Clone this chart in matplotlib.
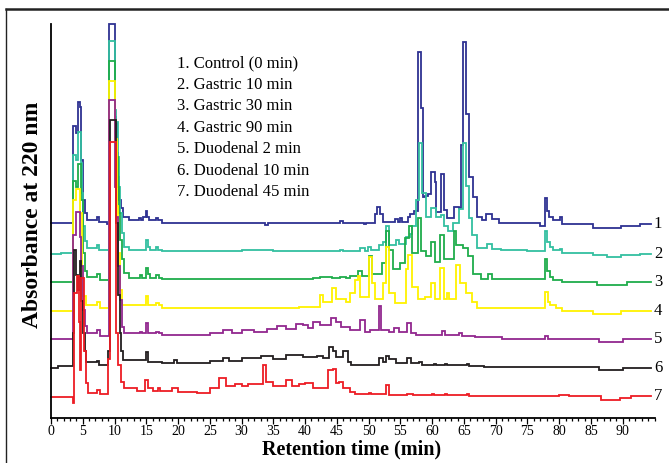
import matplotlib
matplotlib.use("Agg")
import matplotlib.pyplot as plt
from matplotlib.lines import Line2D

plt.rcParams['font.family'] = ['Liberation Serif', 'DejaVu Serif']

# ---------------- data ----------------
sample_labels = ["1. Control (0 min)", "2. Gastric 10 min", "3. Gastric 30 min",
                 "4. Gastric 90 min", "5. Duodenal 2 min", "6. Duodenal 10 min",
                 "7. Duodenal 45 min"]
trace_numbers = ["1", "2", "3", "4", "5", "6", "7"]
x_ticks = list(range(0, 95, 5))
x_label = "Retention time (min)"
y_label = "Absorbance at 220 nm"

# (retention time, absorbance above own baseline) step points
control = [(0, 0), (3.4, 3.34), (4.0, 3.1), (4.2, 4.18), (4.5, 4.0), (4.8, 2.17), (5.0, 0.8),
           (5.3, 0.34), (5.6, 0.1), (7.2, 0.2), (7.6, 0.02), (8.8, -0.03), (9.1, 6.85),
           (10.05, 3.66), (10.2, 3.45), (10.4, 2.4), (10.55, 1.6), (10.75, 0.8), (11.0, 0.5),
           (11.3, 0.22), (12.3, 0.1), (13.8, 0.16), (14.2, 0.1), (14.5, 0.22), (14.9, 0.42),
           (15.15, 0.22), (15.5, 0.1), (16.5, 0.16), (16.9, 0.1), (17.5, 0.0), (33.7, -0.06),
           (34.1, 0.0), (45.5, 0.06), (45.9, 0.0), (49.2, -0.05), (49.6, 0.0), (51.0, 0.3),
           (51.3, 0.54), (51.8, 0.3), (52.2, 0.05), (54.2, 0.15), (54.6, 0.05), (55.0, 0.17),
           (55.3, 0.05), (56.2, 0.2), (56.5, 0.32), (57.2, 0.42), (57.8, 5.88), (58.3, 3.97),
           (58.6, 0.88), (58.9, 0.94), (59.4, 1.0), (59.8, 1.75), (60.4, 1.4), (60.6, 0.37),
           (61.4, 1.68), (61.9, 0.45), (62.3, 0.17), (63.4, 0.56), (64.2, 0.5), (64.5, 2.7),
           (64.9, 6.25), (65.4, 3.76), (65.8, 1.57), (66.4, 0.88), (67.0, 0.19), (67.8, 0.1),
           (68.5, 0.31), (69.4, 0.12), (70.5, 0.0), (76.9, -0.09), (77.7, 0.85), (78.1, 0.4),
           (78.4, 0.2), (79.0, 0.1), (80.2, 0.2), (80.5, -0.05), (85.3, -0.17), (89.8, -0.12),
           (92.7, -0.05), (94.4, -0.05)]

gastric10 = [(0, -0.06), (1.6, 0.0), (3.4, 3.37), (4.0, 3.2), (4.3, 4.17), (4.7, 3.1),
             (4.9, 2.05), (5.0, 0.9), (5.3, 0.4), (5.6, 0.15), (7.2, 0.25), (7.6, 0.1),
             (9.1, 7.28), (10.05, 4.9), (10.3, 4.5), (10.5, 3.3), (10.7, 2.27), (10.9, 1.37),
             (11.2, 0.68), (11.5, 0.2), (12.3, 0.09), (14.9, 0.44), (15.2, 0.2), (15.6, 0.09),
             (16.5, 0.18), (16.9, 0.09), (17.5, 0.07), (23.3, 0.04), (25.8, 0.07), (30, 0.09),
             (35, 0.07), (45.5, 0.1), (46, 0.07), (48.7, 0.15), (49.4, 0.07), (49.9, 0.19),
             (50.4, 0.1), (51.7, 0.25), (52.2, 0.35), (52.7, 0.9), (53.2, 0.25), (54.3, 0.42),
             (54.8, 0.3), (55.9, 0.53), (56.5, 0.65), (56.8, 0.9), (57.5, 1.8), (58.0, 3.77),
             (58.4, 2.05), (59.0, 1.24), (59.8, 1.53), (60.6, 1.24), (61.4, 1.3), (61.8, 0.9),
             (62.5, 0.75), (63.3, 1.01), (64.2, 1.5), (64.9, 3.77), (65.4, 2.3), (65.8, 1.2),
             (66.2, 0.6), (67.0, 0.15), (68.6, 0.3), (69.4, 0.13), (70.8, 0.09), (75, 0.04),
             (77.7, 0.75), (78.1, 0.35), (78.5, 0.2), (79.0, 0.09), (80.2, 0.13), (80.5, -0.02),
             (85.3, -0.1), (87.5, -0.17), (89.8, -0.08), (92.7, -0.05), (94.4, -0.05)]

gastric30 = [(0, 0), (3.4, 3.5), (4.0, 3.3), (4.3, 4.1), (4.75, 2.85), (5.05, 1.0), (5.35, 0.4),
             (5.7, 0.2), (7.2, 0.3), (7.7, 0.1), (9.1, 7.62), (10.05, 5.15), (10.3, 4.34),
             (10.5, 3.3), (10.7, 2.4), (10.9, 1.47), (11.2, 0.8), (11.5, 0.33), (12.3, 0.16),
             (14.0, 0.25), (14.3, 0.16), (14.9, 0.5), (15.2, 0.3), (15.6, 0.16), (16.5, 0.25),
             (17.0, 0.16), (17.5, 0.11), (37.6, 0.12), (41.2, 0.15), (42.3, 0.2), (44.3, 0.16),
             (45.5, 0.2), (46.4, 0.14), (47.1, 0.22), (48.4, 0.38), (48.9, 0.22), (50.0, 0.9),
             (50.5, 0.28), (52.1, 0.67), (52.7, 1.76), (53.2, 1.13), (53.9, 0.45), (54.9, 0.67),
             (55.8, 1.53), (56.3, 1.93), (56.9, 1.0), (57.7, 2.22), (58.3, 1.1), (59.1, 0.9),
             (59.8, 1.41), (60.4, 0.72), (61.3, 1.65), (61.8, 0.8), (63.4, 1.76), (63.8, 1.3),
             (64.8, 1.2), (65.6, 0.9), (66.4, 0.3), (67.7, 0.13), (68.8, 0.28), (69.4, 0.13),
             (77.7, 0.8), (78.1, 0.4), (78.5, 0.2), (79.0, 0.1), (80.5, 0.0), (85.9, -0.1),
             (90.6, 0.0), (94.4, 0.0)]

gastric90 = [(0, 0), (3.4, 3.8), (4.0, 4.2), (4.5, 3.37), (4.85, 1.17), (5.1, 0.5), (5.5, 0.2),
             (7.2, 0.3), (7.7, 0.1), (9.1, 7.92), (10.1, 5.9), (10.4, 3.6), (10.6, 2.0),
             (10.9, 0.7), (11.2, 0.2), (14.9, 0.5), (15.3, 0.2), (16.5, 0.25), (17.0, 0.18),
             (17.5, 0.08), (35.5, 0.1), (39.0, 0.14), (42.3, 0.52), (42.8, 0.31), (44.3, 0.77),
             (44.9, 0.41), (46.4, 0.31), (47.1, 0.6), (47.9, 1.06), (48.3, 1.2), (48.7, 0.46),
             (50.0, 1.86), (50.5, 0.94), (51.0, 0.4), (52.2, 0.94), (52.7, 2.2), (53.2, 0.6),
             (54.1, 0.25), (55.9, 1.44), (56.2, 1.9), (56.8, 0.8), (57.8, 0.4), (58.8, 0.46),
             (59.8, 0.94), (60.4, 0.4), (61.3, 1.46), (61.8, 0.4), (62.3, 0.6), (62.7, 0.4),
             (63.8, 1.58), (64.4, 0.94), (65.4, 0.6), (66.2, 0.3), (67.0, 0.08), (77.4, 0.08),
             (77.8, 0.65), (78.2, 0.3), (78.6, 0.2), (79.5, 0.1), (80.5, 0.0), (85.3, -0.12),
             (89.8, -0.03), (94.4, -0.03)]

duodenal2 = [(0, 0), (3.4, 3.6), (4.0, 4.39), (4.5, 3.5), (4.8, 2.5), (5.05, 1.0), (5.35, 0.45),
             (5.7, 0.2), (7.2, 0.3), (7.7, 0.12), (9.1, 8.24), (10.15, 5.25), (10.3, 4.2),
             (10.6, 2.5), (10.9, 1.34), (11.2, 0.42), (11.5, 0.2), (14.0, 0.25), (14.3, 0.2),
             (14.9, 0.56), (15.3, 0.2), (16.5, 0.25), (17.0, 0.2), (17.5, 0.14), (25.0, 0.2),
             (27.0, 0.3), (28.5, 0.22), (30.0, 0.3), (32.0, 0.25), (34.0, 0.35), (35.5, 0.45),
             (37.0, 0.35), (38.5, 0.5), (39.7, 0.48), (40.4, 0.37), (41.2, 0.6), (42.3, 0.48),
             (44.1, 0.71), (44.9, 0.6), (45.7, 0.43), (47.0, 0.31), (48.6, 0.64), (49.4, 0.25),
             (50.2, 0.31), (51.6, 1.14), (52.0, 0.31), (53.2, 0.25), (54.0, 0.37), (54.8, 0.25),
             (56.1, 0.54), (56.6, 0.2), (57.4, 0.14), (61.6, 0.28), (62.1, 0.14), (64.2, 0.2),
             (64.7, 0.1), (66.8, 0.06), (71.0, 0.0), (77.8, 0.1), (78.3, 0.0), (86.3, -0.1),
             (90.0, 0.0), (94.4, 0.0)]

duodenal10 = [(0, 0), (1.1, 0.06), (3.4, 1.2), (3.6, 4.07), (3.9, 3.2), (4.2, 2.7), (4.5, 3.7),
              (4.8, 2.3), (5.0, 1.2), (5.3, 0.6), (5.5, 0.19), (7.3, 0.25), (7.6, 0.1),
              (9.0, 0.6), (9.3, 8.55), (10.3, 5.0), (10.5, 2.5), (10.8, 1.2), (11.0, 0.6),
              (11.3, 0.26), (14.9, 0.56), (15.3, 0.2), (17.5, 0.16), (19.3, 0.28), (19.8, 0.16),
              (25.0, 0.25), (27.0, 0.35), (28.0, 0.25), (30.0, 0.35), (33.0, 0.4), (35.0, 0.3),
              (37.0, 0.45), (39.7, 0.39), (41.8, 0.42), (42.8, 0.33), (43.8, 0.74), (44.4, 0.57),
              (44.9, 0.39), (46.0, 0.57), (46.7, 0.22), (47.3, 0.1), (51.7, 0.33), (52.2, 0.22),
              (52.7, 0.4), (53.2, 0.3), (54.3, 0.17), (56.1, 0.33), (56.6, 0.17), (57.9, 0.22),
              (58.4, 0.1), (60.3, 0.15), (60.6, 0.1), (62.0, 0.14), (62.3, 0.1), (65.5, 0.13),
              (65.8, 0.07), (68.1, 0.05), (86.3, -0.08), (90.0, 0.0), (94.4, 0.0)]

duodenal45 = [(0, 0), (3.45, -0.2), (3.65, 3.6), (4.1, 4.17), (4.45, 2.6), (4.6, 0.93), (4.8, 4.1),
              (5.2, 1.6), (5.5, 0.48), (5.8, 0.13), (7.2, 0.25), (7.7, 0.1), (9.0, 1.3),
              (9.3, 8.8), (10.3, 2.2), (10.6, 1.1), (11.0, 0.5), (11.5, 0.3), (13.5, 0.22),
              (14.8, 0.6), (15.2, 0.3), (16.0, 0.22), (16.8, 0.3), (17.2, 0.22), (19.0, 0.3),
              (20.0, 0.18), (23.0, 0.15), (25.0, 0.3), (26.5, 0.65), (27.5, 0.37), (29.0, 0.44),
              (30.0, 0.37), (31.0, 0.44), (33.3, 1.1), (33.8, 0.52), (35.0, 0.37), (37.0, 0.59),
              (38.0, 0.37), (39.0, 0.44), (40.0, 0.47), (41.2, 0.3), (43.6, 0.93), (44.4, 0.98),
              (44.8, 0.47), (45.4, 0.52), (46.0, 0.3), (47.0, 0.18), (47.8, 0.1), (50.0, 0.15),
              (50.4, 0.1), (52.7, 0.4), (53.2, 0.07), (56.0, 0.12), (57.0, 0.07), (60.0, 0.1),
              (60.3, 0.07), (62.0, 0.1), (62.3, 0.07), (65.5, 0.1), (65.8, 0.03), (80.0, 0.07),
              (81.5, 0.03), (86.5, -0.09), (89.5, -0.04), (91.3, 0.02), (94.4, 0.02)]

traces = [control, gastric10, gastric30, gastric90, duodenal2, duodenal10, duodenal45]
colors = ["#2E3192", "#33BFA0", "#1FAD4B", "#FFF200", "#92278F", "#231F20", "#ED1C24"]
offsets = [6.0, 4.98, 3.95, 2.98, 2.0, 1.0, 0.0]

# ---------------- figure ----------------
W, H = 669, 463
fig = plt.figure(figsize=(W / 100, H / 100), dpi=100)
ax = fig.add_axes([51 / W, 1 - 418 / H, (654.5 - 51) / W, (418 - 24) / H])

for pts, col, off in zip(traces, colors, offsets):
    t = [p[0] for p in pts]
    y = [p[1] + off for p in pts]
    ax.plot(t, y, drawstyle='steps-post', color=col, lw=1.3, clip_on=False,
            solid_joinstyle='miter')

for num, pts, off in zip(trace_numbers, traces, offsets):
    ax.text(94.9, pts[-1][1] + off, num, fontsize=12, ha='left', va='center',
            clip_on=False)

for i, lab in enumerate(sample_labels):
    ax.text(0.208, 0.901 - i * 0.0546, lab, transform=ax.transAxes, fontsize=12,
            ha='left', va='center')

ax.set_xlim(0, 95)
ax.set_ylim(-0.724, 12.86)
ax.spines['top'].set_visible(False)
ax.spines['right'].set_visible(False)
ax.spines['left'].set_linewidth(1.3)
ax.spines['bottom'].set_linewidth(1.3)
ax.set_yticks([])
ax.set_xticks(x_ticks)
ax.set_xticks(range(0, 96), minor=True)
ax.set_xticklabels([str(v) for v in x_ticks], fontsize=10)
ax.tick_params(axis='x', which='major', direction='out', length=4, width=0.9, pad=1.0)
ax.tick_params(axis='x', which='minor', direction='out', length=2.5, width=0.9)

fig.text(352 / W, 1 - 449 / H, x_label, fontsize=14.5, fontweight='bold',
         ha='center', va='center')
fig.text(33 / W, 1 - 215 / H, y_label, fontsize=17, fontweight='bold',
         ha='center', va='center', rotation=90)

# figure frame (top and left borders)
fig.add_artist(Line2D([6 / W, 1], [1 - 9 / H, 1 - 9 / H], transform=fig.transFigure,
                      color='#222222', lw=1.8))
fig.add_artist(Line2D([6 / W, 6 / W], [0, 1 - 9 / H], transform=fig.transFigure,
                      color='#222222', lw=1.0))

fig.savefig("out.png", dpi=100)
